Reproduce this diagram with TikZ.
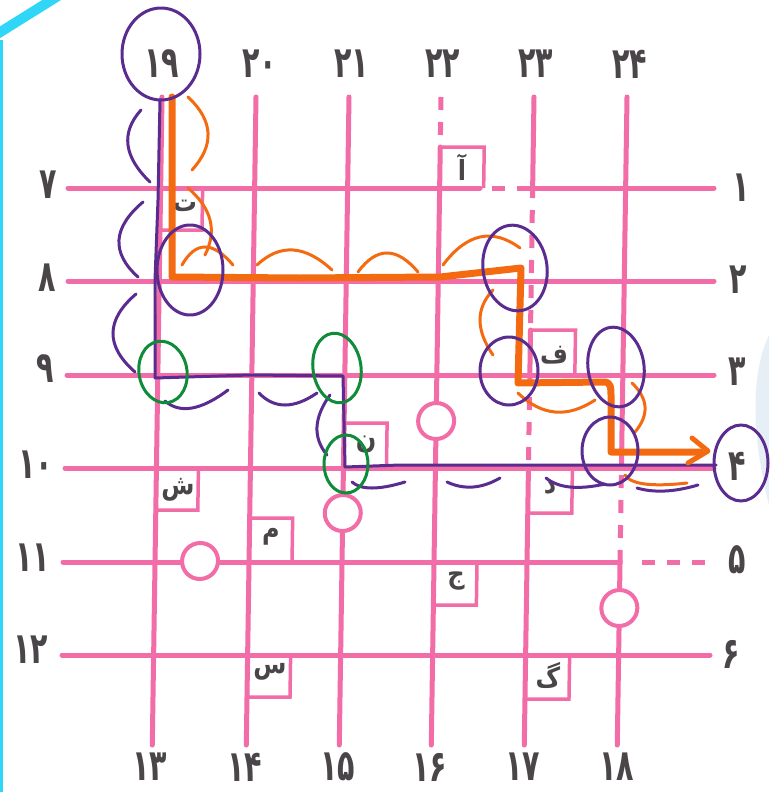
\documentclass[tikz,border=0pt]{standalone}
\usepackage{fontspec}
\usepackage{graphicx}
\usetikzlibrary{calc}
\newfontfamily\fa[Script=Arabic]{DejaVu Sans}
\definecolor{gridpink}{HTML}{F26CA7}
\definecolor{labgray}{HTML}{4A4548}
\definecolor{annorange}{HTML}{F46A10}
\definecolor{annpurple}{HTML}{5B2C8F}
\definecolor{anngreen}{HTML}{0E8C3A}
\definecolor{cyanedge}{HTML}{2FD6F7}
\definecolor{blotch}{HTML}{DCE9F3}
\tikzset{
  gridline/.style={draw=gridpink, line width=5pt, line cap=round},
  griddash/.style={draw=gridpink, line width=5pt, dash pattern=on 13pt off 12pt},
  boxedge/.style={draw=gridpink, line width=3.5pt},
  ring/.style={draw=gridpink, fill=white, line width=4pt},
  orthick/.style={draw=annorange, line width=7pt, line cap=round, line join=round},
  orthin/.style={draw=annorange, line width=3pt, line cap=round},
  purline/.style={draw=annpurple, line width=3pt, line cap=round, line join=round},
  grnline/.style={draw=anngreen, line width=3pt},
  numlbl/.style={font=\fa\bfseries\fontsize{30}{30}\selectfont, text=labgray, inner sep=0pt},
  letlbl/.style={font=\fa\bfseries\fontsize{24}{24}\selectfont, text=labgray, inner sep=0pt},
}
\newcommand{\numat}[4]{\node[numlbl] (#1) at (#2,#3) {\scalebox{0.95}[1.45]{#4}};}
\newcommand{\letat}[4]{\node[letlbl] (#1) at (#2,#3) {\scalebox{1}[1.15]{#4}};}
% smooth hand-drawn arc through a quadratic control point
\newcommand{\qarc}[4]{\draw[#1] #2 .. controls ($#2!0.667!#3$) and ($#4!0.667!#3$) .. #4;}
\begin{document}
\begin{tikzpicture}[x=1pt,y=-1pt]
\useasboundingbox (0,0) rectangle (769,792);
\fill[white] (0,0) rectangle (769,792);
% page edge decorations
\draw[cyanedge, line width=10pt] (-6,36) -- (58,-4);
\draw[cyanedge, line width=3pt] (1,40) -- (1,792);
\fill[blotch, opacity=0.7] (769,335) .. controls (752,370) and (750,430) .. (769,505) -- cycle;

% rows
\draw[gridline] (68,188) -- (480,188);
\draw[griddash, dash phase=13pt] (480,188) -- (530,188);
\draw[gridline] (530,188) -- (714,188);
\draw[gridline] (68,281) -- (714,281);
\draw[gridline] (67,375) -- (714,375);
\draw[gridline] (65,468) -- (714,468);
\draw[gridline] (63,562) -- (620,562);
\draw[griddash, dash phase=13pt] (630,562) -- (714,562);
\draw[gridline] (62,655) -- (710,655);

% columns, boxes, circles (slightly slanted like the scan)
\begin{scope}[cm={1,0,0.015,1,(1.455,0)}]
\draw[gridline] (162,97) -- (162,745);
\draw[gridline] (256,97) -- (256,745);
\draw[gridline] (349,97) -- (349,745);
\draw[griddash] (441,97) -- (441,147);
\draw[gridline] (441,147) -- (441,745);
\draw[gridline] (534,97) -- (534,188);
\draw[griddash, dash phase=5pt] (534,190) -- (534,330);
\draw[gridline] (534,330) -- (534,375);
\draw[griddash, dash phase=5pt] (534,377) -- (534,468);
\draw[gridline] (534,468) -- (534,745);
\draw[gridline] (627,97) -- (627,468);
\draw[griddash, dash phase=20pt] (627,470) -- (627,562);
\draw[gridline] (627,562) -- (627,745);
% label boxes
\draw[boxedge] (162,230) -- (204,230) -- (204,188);
\draw[boxedge] (441,147) -- (485,147) -- (485,188);
\draw[boxedge] (534,330) -- (579,330) -- (579,375);
\draw[boxedge] (349,423) -- (392,423) -- (392,468);
\draw[boxedge] (162,510) -- (204,510) -- (204,468);
\draw[boxedge] (256,518) -- (299,518) -- (299,562);
\draw[boxedge] (441,605) -- (484,605) -- (484,562);
\draw[boxedge] (534,513) -- (578,513) -- (578,468);
\draw[boxedge] (256,697) -- (299,697) -- (299,655);
\draw[boxedge] (534,699) -- (578,699) -- (578,655);
% circles
\draw[ring] (441,421) circle[radius=18];
\draw[ring] (349,513) circle[radius=18];
\draw[ring] (207,561) circle[radius=18];
\draw[ring] (627,608) circle[radius=18];
\end{scope}

% numbers
\numat{t19}{162}{64}{۱۹}
\numat{t20}{260}{64}{۲۰}
\numat{t21}{352}{64}{۲۱}
\numat{t22}{443}{64}{۲۲}
\numat{t23}{536}{64}{۲۳}
\numat{t24}{630}{64}{۲۴}
\numat{b13}{150}{767}{۱۳}
\numat{b14}{245}{767}{۱۴}
\numat{b15}{338}{767}{۱۵}
\numat{b16}{430}{767}{۱۶}
\numat{b17}{523}{767}{۱۷}
\numat{b18}{617}{767}{۱۸}
\numat{l7}{48}{185}{۷}
\numat{l8}{47}{278}{۸}
\numat{l9}{45}{369}{۹}
\numat{l10}{36}{465}{۱۰}
\numat{l11}{33}{558}{۱۱}
\numat{l12}{31}{650}{۱۲}
\numat{r1}{741}{188}{۱}
\numat{r2}{738}{280}{۲}
\numat{r3}{737}{372}{۳}
\numat{r4}{737}{466}{۴}
\numat{r5}{737}{560}{۵}
\numat{r6}{731}{654}{۶}
% letters
\letat{Lt}{185}{206}{ت}
\letat{La}{462}{167}{آ}
\letat{Lf}{554}{355}{ف}
\letat{Ln}{366}{444}{ن}
\letat{Lsh}{178}{490}{ش}
\letat{Lm}{271}{537}{م}
\letat{Lj}{456}{581}{ج}
\letat{Ld}{550}{488}{د}
\letat{Ls}{270}{672}{س}
\letat{Lg}{548}{675}{گ}

% ---- hand annotations ----
% purple route
\draw[purline] (160,100) -- (158,200) -- (155,280) -- (155,378) -- (250,375) -- (343,376) -- (345,467) -- (400,465) -- (716,465);
% orange route with arrow
\draw[orthick] (172,97) -- (172,277) -- (300,278) -- (440,277) -- (521,268) -- (518,383) -- (604,382) .. controls (611,382) and (611,388) .. (611,395) -- (611,452) -- (700,452);
\draw[orthick, line width=5pt] (692,438) -- (708,451) -- (688,463);
% orange arcs
\qarc{orthin}{(188,97)}{(226,132.5)}{(192,170)}
\qarc{orthin}{(188,188)}{(223.5,218.5)}{(205,255)}
\qarc{orthin}{(182,265)}{(202.5,229)}{(233,265)}
\qarc{orthin}{(257,265)}{(291.5,232.5)}{(332,270)}
\qarc{orthin}{(358,272)}{(386,234)}{(418,272)}
\qarc{orthin}{(443,265)}{(478.5,217.5)}{(520,248)}
\qarc{orthin}{(493,290)}{(467,317.5)}{(493,355)}
\qarc{orthin}{(518,393)}{(553.5,427.5)}{(595,400)}
\qarc{orthin}{(632,383)}{(656.5,406.5)}{(635,432)}
\qarc{orthin}{(625,475)}{(634,489)}{(687,483)}
% purple arcs
\qarc{purline}{(141,110)}{(110.5,144)}{(150,182)}
\qarc{purline}{(143,202)}{(97.5,240.5)}{(138,277)}
\qarc{purline}{(136,294)}{(90.5,333)}{(135,372)}
\qarc{purline}{(165,401)}{(187.5,420.5)}{(228,390)}
\qarc{purline}{(259,393)}{(282,417)}{(317,393)}
\qarc{purline}{(330,395)}{(305.5,429)}{(327,455)}
\qarc{purline}{(352,482)}{(365.5,494)}{(405,482)}
\qarc{purline}{(447,482)}{(472.5,494)}{(500,478)}
\qarc{purline}{(546,478)}{(564.5,493)}{(605,484)}
\qarc{purline}{(637,488)}{(662.5,495.5)}{(698,485)}
% purple loops
\draw[purline] (161,54) ellipse[x radius=39, y radius=46];
\draw[purline] (190,270) ellipse[x radius=33, y radius=45];
\draw[purline, rotate around={8:(515,268)}] (515,268) ellipse[x radius=32, y radius=43];
\draw[purline] (509,371) ellipse[x radius=29, y radius=34];
\draw[purline, rotate around={8:(616,367)}] (616,367) ellipse[x radius=28, y radius=40];
\draw[purline] (610,451) ellipse[x radius=28, y radius=34];
\draw[purline] (741,463) ellipse[x radius=27, y radius=38];
% green loops
\draw[grnline, rotate around={10:(163,372)}] (163,372) ellipse[x radius=24, y radius=31];
\draw[grnline, rotate around={8:(337,368)}] (337,368) ellipse[x radius=24, y radius=35];
\draw[grnline] (346,464) ellipse[x radius=22, y radius=29];
\end{tikzpicture}
\end{document}
